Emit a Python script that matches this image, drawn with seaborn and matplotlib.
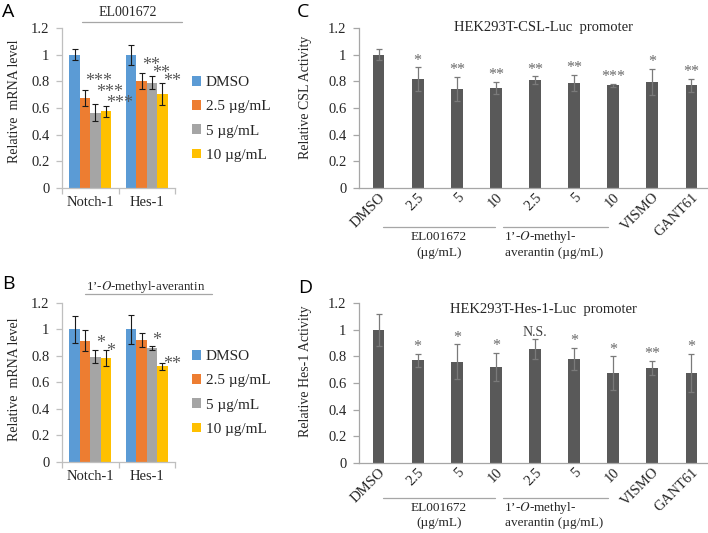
import numpy as np
import pandas as pd
import matplotlib
matplotlib.use("Agg")
import matplotlib.pyplot as plt
from matplotlib.lines import Line2D
from matplotlib.ticker import FixedLocator, FuncFormatter
import seaborn as sns

# ---- data ----
genes = ["Notch-1", "Hes-1"]
doses = ["DMSO", "2.5 µg/mL", "5 µg/mL", "10 µg/mL"]
dose_colors = ["#5B9BD5", "#ED7D31", "#A5A5A5", "#FFC000"]

# rows = doses, cols = genes
a_mean = [[1.00, 1.00], [0.675, 0.805], [0.565, 0.79], [0.575, 0.705]]
a_err = [[0.04, 0.075], [0.06, 0.06], [0.065, 0.05], [0.04, 0.085]]
a_sig = [["", ""], ["***", "**"], ["***", "**"], ["***", "**"]]

b_mean = [[1.00, 1.00], [0.915, 0.92], [0.795, 0.86], [0.785, 0.72]]
b_err = [[0.10, 0.11], [0.08, 0.055], [0.05, 0.015], [0.06, 0.03]]
b_sig = [["", ""], ["", ""], ["*", "*"], ["*", "**"]]

treat_keys = ["DMSO", "EL 2.5", "EL 5", "EL 10", "OM 2.5", "OM 5", "OM 10", "VISMO", "GANT61"]
treat_labels = ["DMSO", "2.5", "5", "10", "2.5", "5", "10", "VISMO", "GANT61"]

c_mean = [1.00, 0.818, 0.743, 0.75, 0.808, 0.787, 0.77, 0.795, 0.77]
c_err = [0.04, 0.088, 0.093, 0.045, 0.03, 0.063, 0.013, 0.10, 0.048]
c_sig = ["", "*", "**", "**", "**", "**", "***", "*", "**"]

d_mean = [1.00, 0.77, 0.76, 0.72, 0.855, 0.78, 0.675, 0.712, 0.675]
d_err = [0.12, 0.048, 0.13, 0.105, 0.075, 0.083, 0.125, 0.053, 0.143]
d_sig = ["", "*", "*", "*", "N.S.", "*", "*", "**", "*"]

yticks = [0, 0.2, 0.4, 0.6, 0.8, 1.0, 1.2]

# ---- style ----
sns.set_theme(style="white")
plt.rcParams["font.family"] = ["Liberation Serif", "DejaVu Serif"]
plt.rcParams["mathtext.fontset"] = "stix"

W, H = 708, 533
fig = plt.figure(figsize=(W / 100, H / 100), dpi=100)
TXT = "#262626"
AXC = "#BFBFBF"


def px_rect(x0, y0, x1, y1):
    # pixel box (top-left origin) -> figure fraction
    return [x0 / W, 1 - y1 / H, (x1 - x0) / W, (y1 - y0) / H]


def ftext(x, y, s, **kw):
    kw.setdefault("color", TXT)
    fig.text(x / W, 1 - y / H, s, **kw)


def fline(x0, x1, y, color="#A6A6A6"):
    fig.add_artist(Line2D([x0 / W, x1 / W], [1 - y / H, 1 - y / H],
                          color=color, lw=0.9, transform=fig.transFigure))


def style_axes(ax, spine_color):
    sns.despine(ax=ax)
    for s in ["left", "bottom"]:
        ax.spines[s].set_color(spine_color)
        ax.spines[s].set_linewidth(0.9)
    ax.set_ylim(0, 1.2)
    ax.yaxis.set_major_locator(FixedLocator(yticks))
    ax.yaxis.set_major_formatter(FuncFormatter(lambda v, p: f"{v:g}"))
    ax.tick_params(axis="y", length=4, width=0.9, color=spine_color, pad=5,
                   labelsize=10.5, labelcolor=TXT, left=True)
    ax.set_xlabel("")
    ax.set_ylabel("")


def grouped_panel(rect, mean, err, sig, star_y, legend_top):
    ax = fig.add_axes(rect)
    rows = [(g, d, mean[i][j]) for i, d in enumerate(doses) for j, g in enumerate(genes)]
    df = pd.DataFrame(rows, columns=["gene", "dose", "value"])
    sns.barplot(data=df, x="gene", y="value", hue="dose", order=genes, hue_order=doses,
                palette=dose_colors, saturation=1, width=0.74, errorbar=None,
                linewidth=0, ax=ax)
    bar_groups = [list(c) for c in ax.containers]
    for i, cont in enumerate(bar_groups):
        for j, bar in enumerate(cont):
            xc = bar.get_x() + bar.get_width() / 2
            ax.errorbar(xc, mean[i][j], yerr=err[i][j], color="#1a1a1a", lw=0.8,
                        capsize=2.5, capthick=0.8)
            if sig[i][j]:
                ax.text(xc + 0.01, star_y[i][j] - 0.045, sig[i][j], ha="left",
                        va="center", fontsize=13, color="#595959")
    style_axes(ax, AXC)
    ax.set_xlim(-0.5, 1.5)
    ax.set_xticks([0, 1])
    ax.set_xticklabels(genes)
    ax.xaxis.set_minor_locator(FixedLocator([-0.5, 0.5, 1.5]))
    ax.tick_params(axis="x", which="major", length=0, pad=6, labelsize=10.5, labelcolor=TXT)
    ax.tick_params(axis="x", which="minor", length=4, width=0.9, color=AXC, bottom=True)
    handles, labels = ax.get_legend_handles_labels()
    ax.legend(handles[:4], labels[:4], loc="upper left",
              bbox_to_anchor=(192 / W, 1 - legend_top / H),
              bbox_transform=fig.transFigure, frameon=False, fontsize=11,
              handlelength=0.6, handleheight=0.6, handletextpad=0.3,
              labelspacing=0.72, borderpad=0, borderaxespad=0, labelcolor=TXT)
    return ax


def single_panel(rect, mean, err, sig):
    ax = fig.add_axes(rect)
    df = pd.DataFrame({"treatment": treat_keys, "value": mean})
    sns.barplot(data=df, x="treatment", y="value", order=treat_keys, color="#595959",
                saturation=1, width=0.3, errorbar=None, linewidth=0, ax=ax)
    bars = list(ax.patches)
    for j, bar in enumerate(bars):
        xc = bar.get_x() + bar.get_width() / 2
        ax.errorbar(xc, mean[j], yerr=err[j], color="#7a7a7a", lw=0.9,
                    capsize=2.5, capthick=0.9)
        if sig[j] == "N.S.":
            ax.text(xc, mean[j] + err[j] + 0.005, sig[j], ha="center", va="bottom",
                    fontsize=10, color="#404040")
        elif sig[j]:
            ax.text(xc, mean[j] + err[j] - 0.01, sig[j], ha="center",
                    va="bottom", fontsize=11.5, color="#6a6a6a")
    style_axes(ax, "#A6A6A6")
    ax.set_xlim(-0.5, 8.5)
    ax.set_xticks(range(len(treat_keys)))
    ax.set_xticklabels(treat_labels, rotation=45, ha="right", va="top",
                       rotation_mode="anchor")
    ax.tick_params(axis="x", length=0, pad=2, labelsize=10.5, labelcolor=TXT)
    return ax


# ---- panel A ----
grouped_panel(px_rect(62, 28, 175, 188), a_mean, a_err, a_sig,
              star_y=[[0, 0], [0.84, 0.96], [0.76, 0.90], [0.675, 0.84]], legend_top=76)
ftext(2, 12, "A", family="Open Sans", fontsize=14, va="center", color="black")
ftext(128, 13, "EL001672", fontsize=10, ha="center", va="center")
fline(82, 182, 21.7)
ftext(15, 101, "Relative  mRNA level", fontsize=10, rotation=90, ha="center", va="center")

# ---- panel B ----
grouped_panel(px_rect(62, 303, 175, 461.7), b_mean, b_err, b_sig,
              star_y=[[0, 0], [0, 0], [0.94, 0.96], [0.876, 0.78]], legend_top=350)
ftext(2, 284, "B", family="Open Sans", fontsize=14, va="center", color="black")
ftext(146, 287, "1’-$\\mathit{O}$-methyl-averantin", fontsize=9.4, ha="center", va="center")
fline(85, 212, 293.5)
ftext(14, 379, "Relative  mRNA level", fontsize=10, rotation=90, ha="center", va="center")

# ---- panel C ----
single_panel(px_rect(359, 28, 711, 188), c_mean, c_err, c_sig)
ftext(297, 12, "C", family="Open Sans", fontsize=14, va="center", color="black")
ftext(543, 28, "HEK293T-CSL-Luc  promoter", fontsize=10.5, ha="center", va="center")
ftext(306, 97, "Relative CSL Activity", fontsize=10, rotation=90, ha="center", va="center")
fline(383, 495, 227)
fline(503, 608, 227)
ftext(439, 237, "EL001672", fontsize=9.5, ha="center", va="center")
ftext(439, 253, "(µg/mL)", fontsize=9.5, ha="center", va="center")
ftext(504, 237, "1’-$\\mathit{O}$-methyl-", fontsize=9.5, ha="left", va="center")
ftext(505, 253, "averantin (µg/mL)", fontsize=9.5, ha="left", va="center")

# ---- panel D ----
single_panel(px_rect(359, 303.3, 711, 462.7), d_mean, d_err, d_sig)
ftext(298, 288, "D", family="Open Sans", fontsize=14, va="center", color="black")
ftext(543, 310, "HEK293T-Hes-1-Luc  promoter", fontsize=10.5, ha="center", va="center")
ftext(306, 371, "Relative Hes-1 Activity", fontsize=10, rotation=90, ha="center", va="center")
fline(383, 495, 498)
fline(503, 608, 498)
ftext(439, 508, "EL001672", fontsize=9.5, ha="center", va="center")
ftext(439, 523, "(µg/mL)", fontsize=9.5, ha="center", va="center")
ftext(504, 508, "1’-$\\mathit{O}$-methyl-", fontsize=9.5, ha="left", va="center")
ftext(505, 523, "averantin (µg/mL)", fontsize=9.5, ha="left", va="center")

fig.savefig("out.png", dpi=100)
